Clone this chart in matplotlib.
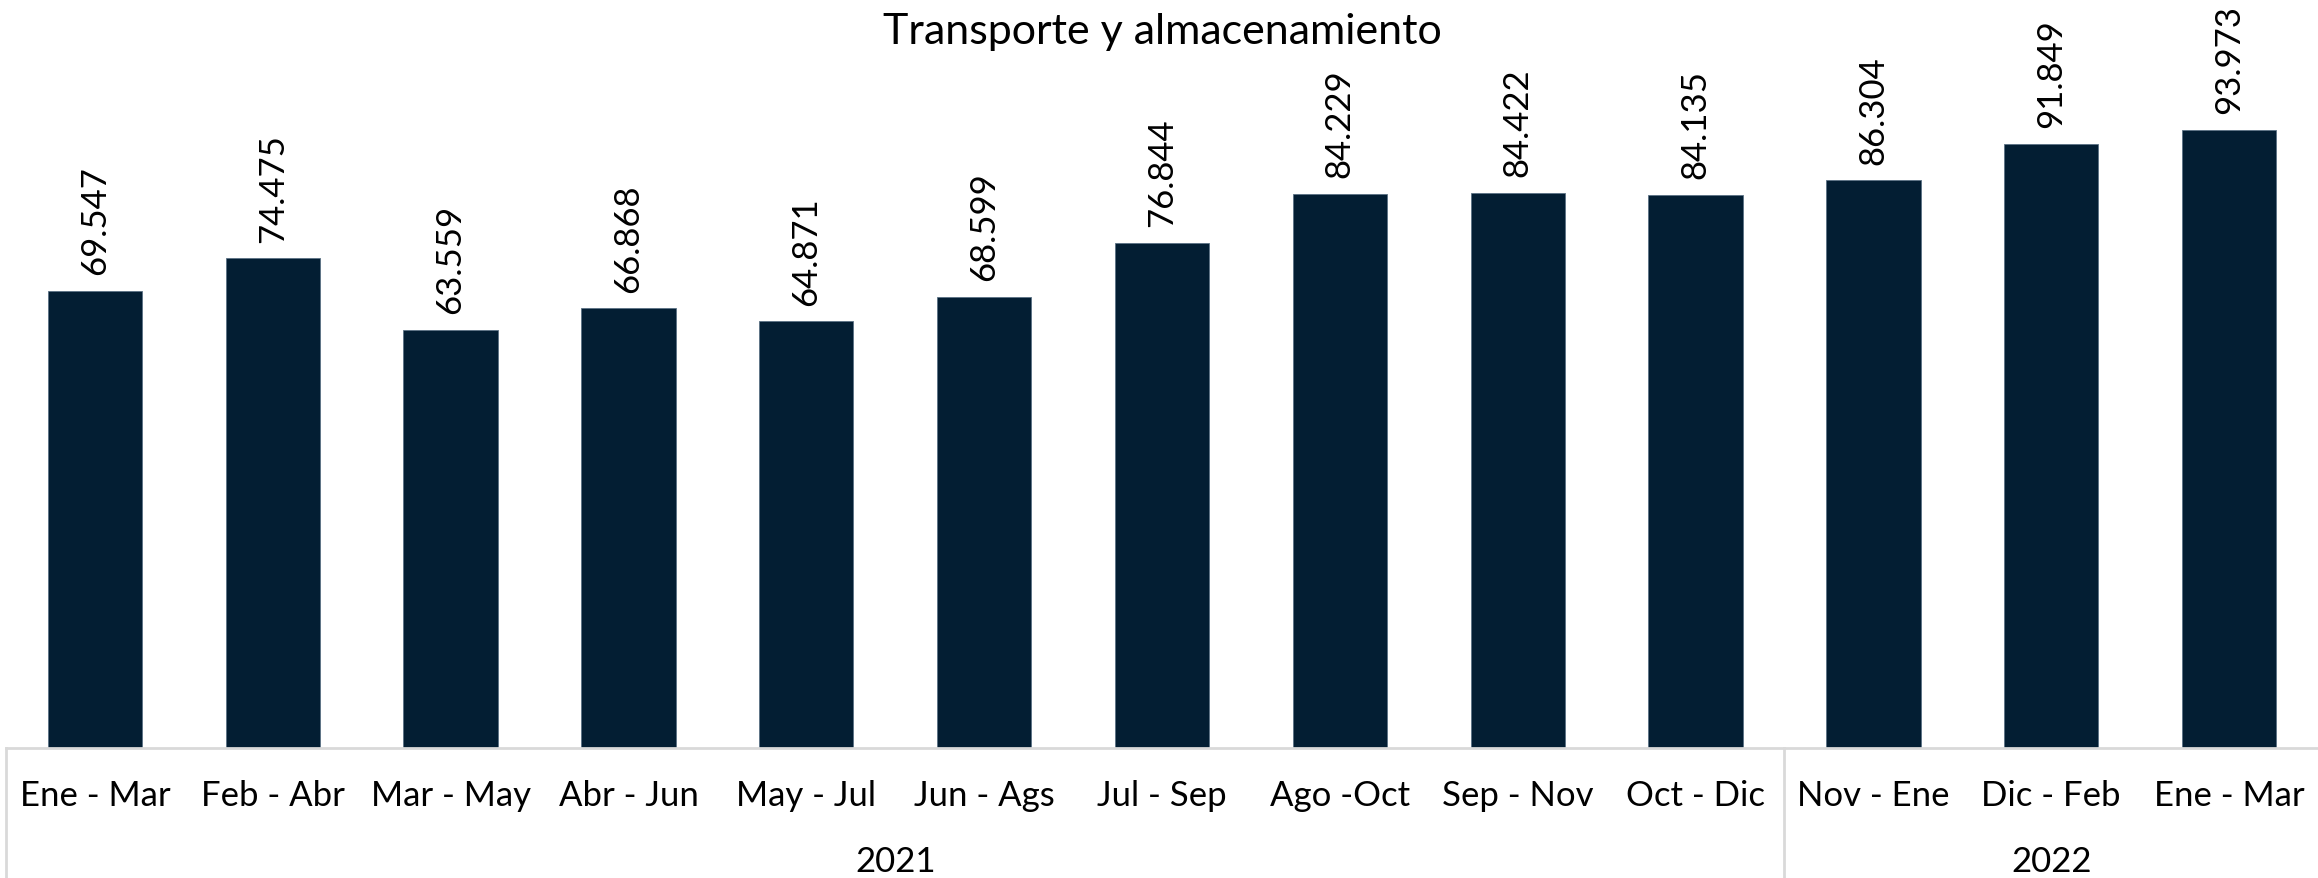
import matplotlib
matplotlib.use("Agg")
import matplotlib.pyplot as plt
from matplotlib.lines import Line2D

categories = ["Ene - Mar", "Feb - Abr", "Mar - May", "Abr - Jun", "May - Jul", "Jun - Ags",
              "Jul - Sep", "Ago -Oct", "Sep - Nov", "Oct - Dic", "Nov - Ene", "Dic - Feb", "Ene - Mar"]
values = [69.547, 74.475, 63.559, 66.868, 64.871, 68.599, 76.844, 84.229, 84.422, 84.135,
          86.304, 91.849, 93.973]
years = ["2021", "2022"]
year_counts = [10, 3]
title = "Transporte y almacenamiento"

FONT = ["Lato", "DejaVu Sans"]
plt.rcParams["font.family"] = FONT

W, H = 2318, 879
fig = plt.figure(figsize=(W / 100, H / 100), dpi=100)
base_px = 749
ax = fig.add_axes([6 / W, (H - base_px) / H, (W - 6) / W, base_px / H])

x = list(range(len(categories)))
ax.bar(x, values, width=0.53, color="#031E33", edgecolor="#5a7184", linewidth=0.6)
ax.set_xlim(-0.5, len(categories) - 0.5)
ax.set_ylim(0, 113.9)

for xi, v in zip(x, values):
    ax.annotate(f"{v:.3f}", (xi, v), xytext=(0, 12), textcoords="offset points",
                rotation=90, ha="center", va="bottom", fontsize=25, color="#000000")

ax.set_xticks(x)
ax.set_xticklabels(categories, fontsize=25)
ax.tick_params(axis="x", length=0, pad=22)
ax.set_yticks([])
for s in ["top", "right", "left"]:
    ax.spines[s].set_visible(False)
ax.spines["bottom"].set_color("#D9D9D9")
ax.spines["bottom"].set_linewidth(2)

tr = ax.get_xaxis_transform()
start = -0.5
for yr, n in zip(years, year_counts):
    ax.add_line(Line2D([start, start], [0, -0.2], transform=tr, color="#D9D9D9",
                       linewidth=2, clip_on=False))
    ax.text(start + n / 2, -0.151, yr, transform=tr, ha="center", va="center", fontsize=25)
    start += n

fig.text(1162 / W, 1 - 32 / H, title, ha="center", va="center", fontsize=31)

fig.savefig("out.png", dpi=100, facecolor="white")
